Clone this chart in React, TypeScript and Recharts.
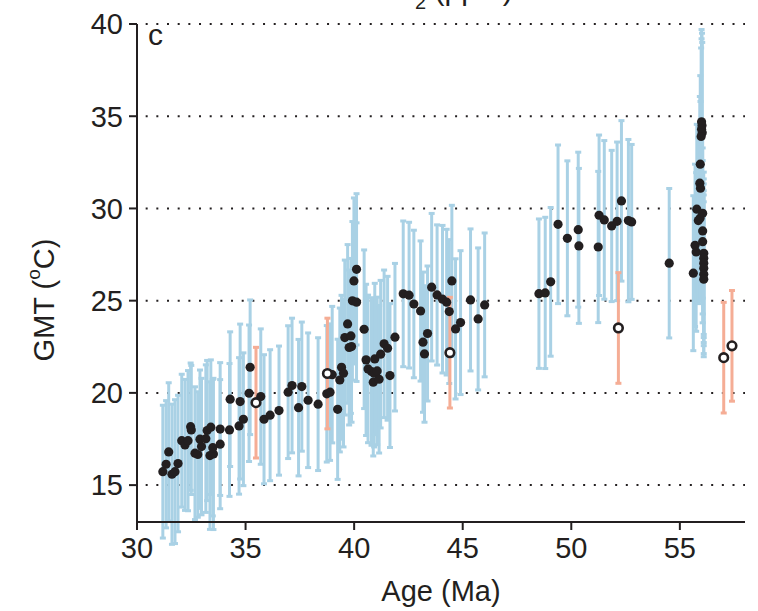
import React from 'react';
import { ScatterChart, Scatter, XAxis, YAxis, CartesianGrid, ErrorBar } from 'recharts';

// proxy estimates (filled dots, blue error bars)
const proxyAge = [
  31.19, 31.34, 31.46, 31.61, 31.75, 31.89, 32.06, 32.21, 32.35, 32.47, 32.5, 32.67, 32.8, 32.9, 32.97, 33.17,
  33.23, 33.4, 33.36, 33.52, 33.49, 33.83, 33.83, 34.26, 34.29, 34.7, 34.75, 34.9, 35.16, 35.21, 35.7, 35.85,
  36.13, 36.54, 36.96, 37.14, 37.44, 37.59, 37.88, 38.34, 38.74, 38.89, 38.99, 39.24, 39.34, 39.42, 39.51, 39.57,
  39.7, 39.85, 39.77, 39.88, 39.92, 40.11, 39.99, 40.11, 40.46, 40.55, 40.64, 40.8, 40.92, 41.06, 40.88, 41.15,
  40.95, 41.22, 41.38, 41.54, 41.65, 41.88, 42.26, 42.53, 42.75, 43.06, 43.17, 43.24, 43.38, 43.57, 43.82, 44.07,
  44.26, 44.38, 44.5, 44.67, 44.9, 45.36, 45.71, 46.01,
  48.51, 48.8, 49.05, 49.39, 49.82, 50.32, 50.35, 51.24, 51.28, 51.52, 51.86, 52.11, 52.31, 52.63, 52.78, 54.51,
  55.62, 55.7, 55.75, 55.78, 55.85, 55.93, 56.05, 56.05, 56.05, 56.1, 56.1, 56.1, 56.1, 56.1, 56.1, 55.94,
  55.92, 55.95, 56.0, 56.02, 56.0, 56.03, 55.98,
];
const proxyGmt = [
  15.73, 16.13, 16.8, 15.59, 15.73, 16.17, 17.41, 17.18, 17.41, 18.17, 17.99, 16.73, 16.66, 17.49, 17.09, 17.52,
  17.96, 18.14, 16.6, 16.69, 17.03, 18.04, 17.22, 17.99, 19.66, 18.21, 19.53, 18.57, 19.98, 21.39, 19.8, 18.57,
  18.79, 19.04, 20.04, 20.4, 19.2, 20.34, 19.6, 19.39, 19.95, 20.04, 20.99, 19.11, 20.7, 21.39, 21.07, 23.0,
  23.74, 23.09, 22.46, 22.51, 24.99, 24.92, 26.07, 26.7, 23.45, 21.79, 21.3, 21.16, 21.07, 21.19, 20.58, 20.74,
  21.84, 22.1, 22.66, 22.42, 20.94, 23.02, 25.37, 25.3, 24.82, 24.44, 22.75, 22.11, 23.22, 25.73, 25.31, 25.08,
  24.92, 24.41, 26.07, 23.47, 23.81, 25.04, 24.01, 24.77,
  25.38, 25.42, 26.02, 29.14, 28.38, 28.85, 27.97, 27.91, 29.63, 29.38, 29.05, 29.3, 30.41, 29.34, 29.27, 27.03,
  26.49, 28.0, 27.64, 29.96, 29.34, 29.47, 29.74, 28.78, 28.2, 27.57, 27.3, 27.03, 26.76, 26.43, 26.16, 32.4,
  31.37, 31.1, 34.7, 34.5, 34.3, 34.1, 33.9,
];
const proxyErr = [
  3.6, 3.45, 3.75, 3.8, 3.9, 3.7, 3.6, 3.55, 3.8, 3.45, 3.5, 3.6, 3.4, 3.75, 3.7, 4.0,
  3.8, 3.65, 4.0, 4.1, 3.7, 3.6, 3.5, 3.6, 3.65, 3.7, 4.2, 3.6, 3.7, 3.65, 3.67, 3.5,
  3.55, 3.5, 3.6, 3.65, 3.7, 3.5, 3.65, 3.6, 3.7, 3.7, 3.7, 3.8, 3.9, 3.9, 4.0, 4.2,
  4.3, 4.2, 4.2, 4.1, 4.3, 4.3, 4.5, 4.1, 4.3, 4.1, 4.0, 4.0, 4.0, 4.0, 4.0, 4.0,
  4.1, 4.0, 4.0, 3.9, 3.9, 4.0, 3.95, 3.95, 4.0, 3.8, 3.8, 3.7, 3.66, 4.0, 3.8, 4.0,
  3.95, 3.9, 4.1, 3.8, 3.9, 3.85, 3.85, 3.9,
  4.05, 4.1, 4.03, 4.3, 4.2, 4.2, 4.2, 4.1, 4.35, 4.3, 4.1, 4.3, 4.35, 4.4, 4.2, 4.05,
  4.2, 4.4, 4.3, 4.6, 4.5, 4.5, 4.6, 4.5, 4.4, 4.4, 4.3, 4.3, 4.2, 4.3, 4.2, 4.8,
  4.7, 4.7, 5.0, 5.0, 4.9, 4.9, 4.8,
];

// open circles (salmon error bars)
const otherAge = [35.48, 38.77, 44.41, 52.17, 57.02, 57.4];
const otherGmt = [19.47, 21.05, 22.18, 23.52, 21.91, 22.55];
const otherErr = [3.0, 3.0, 3.0, 3.0, 3.0, 3.0];

const xTicks = [30, 35, 40, 45, 50, 55];
const yTicks = [15, 20, 25, 30, 35, 40];

const proxyData = proxyAge.map((age, i) => ({ age, gmt: proxyGmt[i], err: proxyErr[i] }));
const otherData = otherAge.map((age, i) => ({ age, gmt: otherGmt[i], err: otherErr[i] }));

const FONT = '"Liberation Sans", Arial, Helvetica, sans-serif';
const INK = '#231f20';
const BLUE = '#a9d1e5';
const SALMON = '#f5ad95';
const FS = 29;

const noShape = () => <g />;
const dot = (p: any) => <circle cx={p.cx} cy={p.cy} r={4.6} fill={INK} />;
const ring = (p: any) => <circle cx={p.cx} cy={p.cy} r={4.3} fill="#fff" stroke={INK} strokeWidth={2.6} />;

const YLabel = () => (
  <text x={44} y={300} transform="rotate(-90 44 300)" textAnchor="middle" dominantBaseline="central"
    fontSize={FS} fontFamily={FONT} fill={INK}>
    GMT (<tspan dy={-11} fontSize={19}>o</tspan><tspan dy={11}>C)</tspan>
  </text>
);

const XLabel = () => (
  <text x={441} y={601} textAnchor="middle" fontSize={FS} fontFamily={FONT} fill={INK}>Age (Ma)</text>
);

export default function App() {
  return (
    <div style={{ position: 'absolute', left: 0, top: 0, width: 758, height: 611, overflow: 'hidden', background: '#fff' }}>
      <div style={{ position: 'absolute', left: 370, top: -25, fontSize: 30, lineHeight: '30px', fontFamily: FONT, color: INK, whiteSpace: 'nowrap' }}>
        CO<span style={{ fontSize: 20, position: 'relative', top: 9 }}>2</span> (ppm)
      </div>
      <div style={{ position: 'absolute', left: 148, top: 20, fontSize: 30, lineHeight: '30px', fontFamily: FONT, color: INK, zIndex: 2 }}>c</div>
      <ScatterChart width={758} height={611} margin={{ top: 24, right: 13, bottom: 0, left: 0 }}>
        <CartesianGrid horizontal vertical={false} stroke={INK} strokeWidth={2} strokeDasharray="0 8.67 2 0" />
        <XAxis type="number" dataKey="age" domain={[30, 58]} ticks={xTicks} allowDataOverflow
          height={89} tickSize={8} tickMargin={7} axisLine={{ stroke: INK, strokeWidth: 2 }}
          tickLine={{ stroke: INK, strokeWidth: 2 }} tick={{ fill: INK, fontSize: FS, fontFamily: FONT }}
          label={{ content: <XLabel /> }} />
        <YAxis type="number" dataKey="gmt" domain={[13, 40]} ticks={yTicks} allowDataOverflow
          width={137} tickSize={8} tickMargin={6} axisLine={{ stroke: INK, strokeWidth: 2 }}
          tickLine={{ stroke: INK, strokeWidth: 2 }} tick={{ fill: INK, fontSize: FS, fontFamily: FONT }}
          label={{ content: <YLabel /> }} />
        <Scatter data={proxyData} shape={noShape} isAnimationActive={false}>
          <ErrorBar dataKey="err" direction="y" stroke={BLUE} strokeWidth={3} width={3} isAnimationActive={false} />
        </Scatter>
        <Scatter data={otherData} shape={noShape} isAnimationActive={false}>
          <ErrorBar dataKey="err" direction="y" stroke={SALMON} strokeWidth={3} width={3} isAnimationActive={false} />
        </Scatter>
        <Scatter data={proxyData} shape={dot} isAnimationActive={false} />
        <Scatter data={otherData} shape={ring} isAnimationActive={false} />
      </ScatterChart>
    </div>
  );
}
